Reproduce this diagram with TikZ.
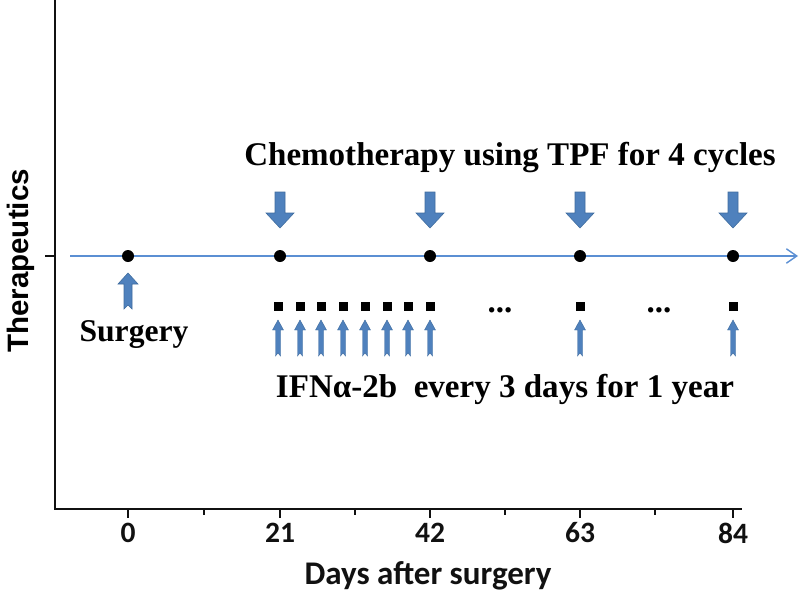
\documentclass[tikz,border=0pt]{standalone}
\usepackage{fontspec}
\setmainfont{Liberation Serif}
\newfontfamily\axisfont{Carlito}
\newfontfamily\ylabfont{Liberation Sans}
\usetikzlibrary{arrows.meta,positioning}
\definecolor{ink}{HTML}{111111}
\definecolor{arrowblue}{HTML}{4F81BD}
\definecolor{arrowedge}{HTML}{3F6C9E}
\definecolor{lineblue}{HTML}{5B8FD3}
\tikzset{
  axis/.style={draw=ink,line width=1.2pt},
  dot/.style={circle,fill=black,inner sep=0pt,minimum size=0.3cm},
  dose/.style={rectangle,fill=black,inner sep=0pt,minimum size=0.225cm},
  notelabel/.style={inner sep=0pt,font=\fontsize{23.5}{27}\selectfont\bfseries,text=black},
  ticklab/.style={inner sep=0pt,font=\axisfont\fontsize{21}{24}\selectfont\bfseries,text=ink},
  timeline/.style={draw=lineblue,line width=1pt,-{Straight Barb[length=2.6mm,width=3.6mm]}},
  chemoarrow/.pic={\filldraw[fill=arrowblue,draw=arrowedge,line width=0.4pt]
    (-5,-18) -- (5,-18) -- (5,3) -- (14,3) -- (0,18) -- (-14,3) -- (-5,3) -- cycle;},
  surgarrow/.pic={\filldraw[fill=arrowblue,draw=arrowedge,line width=0.4pt]
    (0,-18) -- (10,-7) -- (4,-7) -- (4,18) -- (0,14) -- (-4,18) -- (-4,-7) -- (-10,-7) -- cycle;},
  ifnarrow/.pic={\filldraw[fill=arrowblue,draw=arrowedge,line width=0.3pt]
    (0,-18) -- (5.5,-8) -- (2.5,-8) -- (2.5,18) -- (0,15) -- (-2.5,18) -- (-2.5,-8) -- (-5.5,-8) -- cycle;}
}

\begin{document}
\begin{tikzpicture}[x=0.025cm,y=-0.025cm]
  \useasboundingbox (0,0) rectangle (800,598);

  % axes
  \coordinate (ytop) at (55,0);
  \coordinate (orig) at (55,509);
  \coordinate (xend) at (742,509);
  \draw[axis] (ytop) -- (orig) -- (xend);
  \draw[axis] (45,256) -- (55,256);
  \foreach \x/\lab in {128/0,280/21,430/42,580/63,733/84} {
    \draw[axis] (\x,509) -- (\x,518);
    \node[ticklab] (t\lab) at (\x,533) {\lab};
  }
  \foreach \x in {204,355,505,655}
    \draw[axis] (\x,509) -- (\x,515);
  \node[ticklab,anchor=base,font=\axisfont\fontsize{23.5}{27}\selectfont\bfseries] (xlab) at (428,584) {Days after surgery};
  \node[inner sep=0pt,rotate=90,font=\ylabfont\fontsize{21}{25}\selectfont\bfseries] (ylab) at (21,261) {Therapeutics};

  % time line
  \coordinate (tstart) at (70,256);
  \coordinate (tend) at (798,256);
  \draw[timeline] (tstart) -- (tend);
  \node[dot] (d0) at (128,256) {};
  \node[dot] (d21) at (280,256) {};
  \node[dot] (d42) at (430,256) {};
  \node[dot] (d63) at (580,256) {};
  \node[dot] (d84) at (733,256) {};

  % chemotherapy
  \node[notelabel,anchor=base] (chemo) at (510,165) {Chemotherapy using TPF for 4 cycles};
  \foreach \x in {280,430,580,733}
    \pic (c\x) at (\x,210) {chemoarrow};

  % surgery
  \pic (surg) at (128,291) {surgarrow};
  \node[notelabel,anchor=base,font=\fontsize{22.5}{26}\selectfont\bfseries] (surgery) at (134,341) {Surgery};

  % IFN doses
  \foreach \x in {278,300,321,343,365,387,408,430,580,733} {
    \node[dose] (s\x) at (\x,306) {};
    \pic (i\x) at (\x,338) {ifnarrow};
  }
  \node[notelabel,anchor=base] (gap1) at (500,312) {...};
  \node[notelabel,anchor=base] (gap2) at (659,312) {...};
  \node[notelabel,anchor=base] (ifn) at (505,397) {IFNα-2b\ \ every 3 days for 1 year};
\end{tikzpicture}
\end{document}
